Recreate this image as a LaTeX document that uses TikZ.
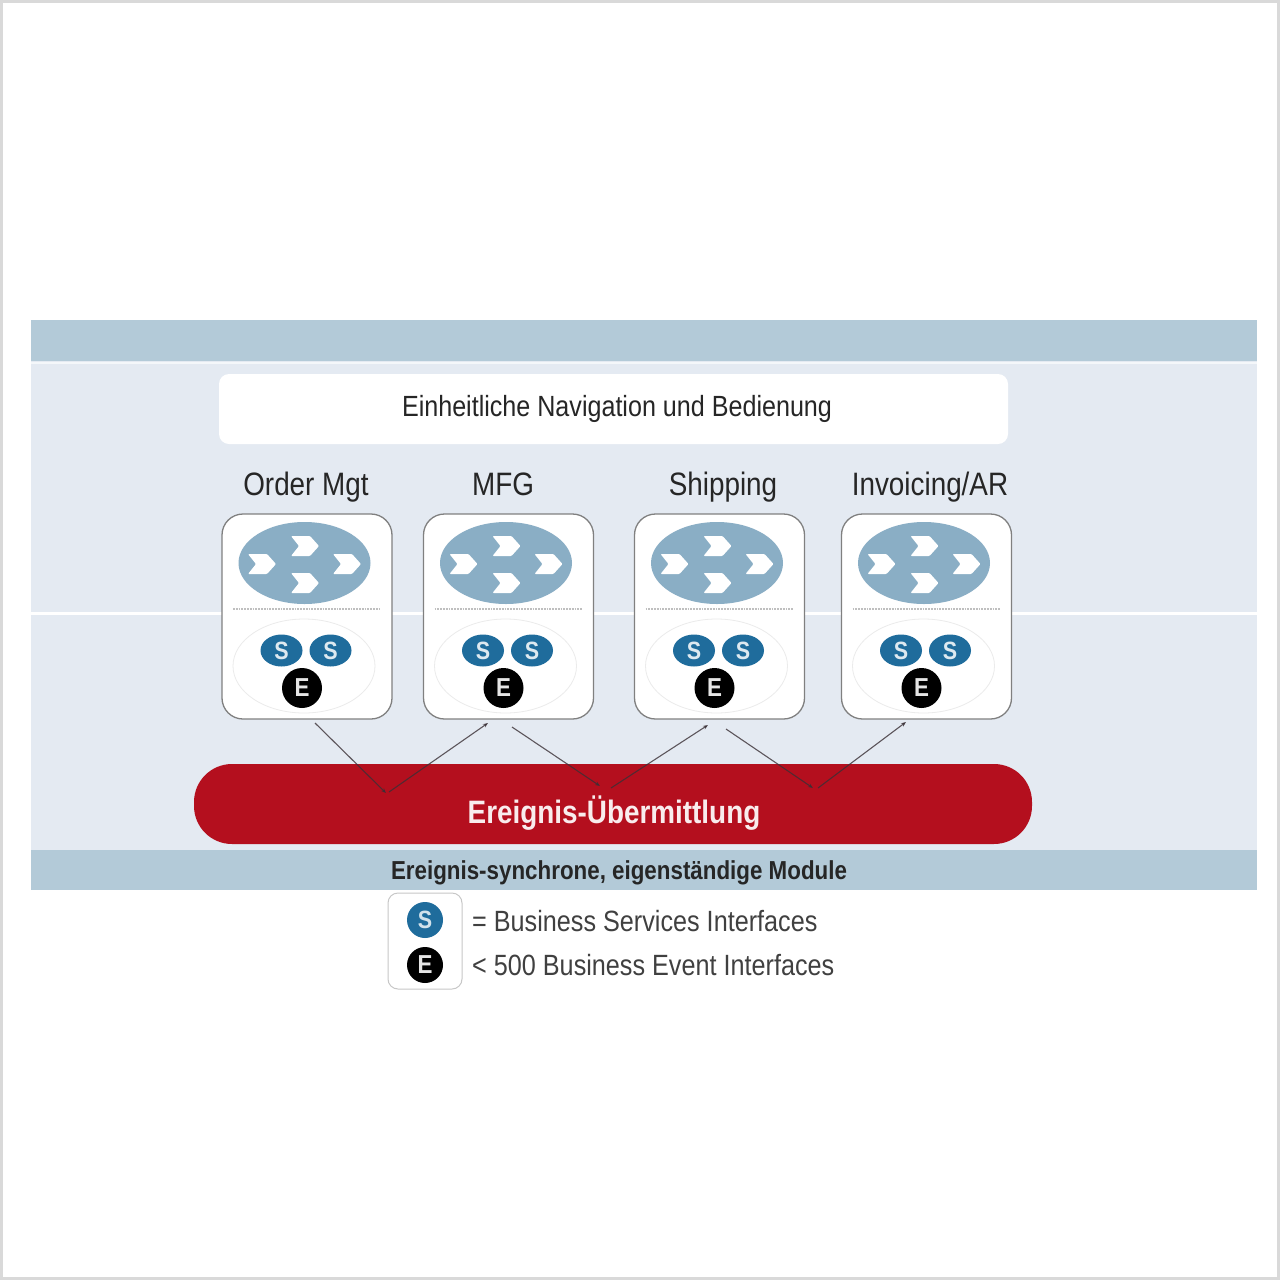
\documentclass[tikz,border=0pt]{standalone}
\usepackage{fontspec}
\setmainfont{Liberation Sans}[FakeStretch=0.86]
\usetikzlibrary{arrows.meta,shapes.geometric}
\definecolor{bandc}{HTML}{B3CAD8}
\definecolor{bgc}{HTML}{E4EAF2}
\definecolor{redc}{HTML}{B40F1E}
\definecolor{bluec}{HTML}{1F6C9C}
\definecolor{ellc}{HTML}{8AAEC5}
\definecolor{linec}{HTML}{3A3036}
\definecolor{framec}{HTML}{D9D9D9}
\tikzset{
  x=1pt,y=-1pt,
  band/.style={fill=bandc,draw=none},
  lbl/.style={font=\fontsize{32.4}{36}\selectfont,text=black!85,inner sep=0pt,anchor=base},
  legendtxt/.style={font=\fontsize{29.3}{34}\selectfont,text=black!75,inner sep=0pt,anchor=west},
  modbox/.style={draw=black!50,line width=1.3pt,fill=white,rounded corners=21pt,minimum width=170pt,minimum height=205pt,inner sep=0pt},
  flowell/.style={fill=ellc,draw=none,ellipse,minimum width=132pt,minimum height=82pt,inner sep=0pt},
  faintell/.style={draw=black!8,fill=white,line width=.8pt,minimum width=142pt,minimum height=94pt,ellipse,inner sep=0pt},
  sell/.style={fill=bluec,draw=none,ellipse,minimum width=42pt,minimum height=32pt,inner sep=0pt,text=white!85!bluec,font=\bfseries\fontsize{25}{28}\selectfont},
  ecirc/.style={fill=black,draw=none,circle,minimum size=40pt,inner sep=0pt,text=white!90!black,font=\bfseries\fontsize{26}{28}\selectfont},
  scirc/.style={fill=bluec,draw=none,circle,minimum size=36pt,inner sep=0pt,text=white!80!bluec,font=\bfseries\fontsize{25}{28}\selectfont},
  ecircs/.style={ecirc,minimum size=36pt},
  conn/.style={draw=linec,line width=1.1pt,draw opacity=.8,-{Stealth[length=5pt,width=4pt]}},
  chev/.pic={\fill[white,rounded corners=1pt] (-14,-10) -- (5,-10) -- (14,0) -- (5,10) -- (-14,10) -- (-6,0) -- cycle;},
}
\begin{document}
\begin{tikzpicture}
\useasboundingbox (0,0) rectangle (1280,1280);
\fill[white] (0,0) rectangle (1280,1280);
\draw[framec,line width=3pt] (1.5,1.5) rectangle (1278.5,1278.5);
% panel
\fill[bgc] (31,361) rectangle (1257,850);
\fill[band] (31,320) rectangle (1257,361);
\fill[band] (31,850) rectangle (1257,890);
\draw[white!60!bgc,line width=2.5pt] (31,363) -- (1257,363);
\draw[white,line width=3pt] (31,613) -- (1257,613);
% top bar
\node[fill=white,rounded corners=10pt,minimum width=789pt,minimum height=70pt,inner sep=0pt] (nav) at (613.5,409) {};
\node[lbl,font=\fontsize{29.2}{34}\selectfont] (navt) at (617,416) {Einheitliche Navigation und Bedienung};
% titles
\node[lbl] (t1) at (306,495) {Order Mgt};
\node[lbl] (t2) at (503,495) {MFG};
\node[lbl] (t3) at (723,495) {Shipping};
\node[lbl] (t4) at (930,495) {Invoicing/AR};
% red bus
\node[fill=redc,rounded corners=38pt,minimum width=838pt,minimum height=80pt,inner sep=0pt] (bus) at (613,804) {};
\node[text=white!92!redc,font=\bfseries\fontsize{32.4}{36}\selectfont,inner sep=0pt] (bust) at (614,813) {Ereignis-Übermittlung};
% modules
\foreach \i/\dx in {1/0,2/201.5,3/412.5,4/619.5}{
  \begin{scope}[shift={(\dx,0)}]
    \node[modbox] (m\i) at (307,616.5) {};
    \node[flowell] (f\i) at (304.5,563) {};
    \pic at (305,546) {chev};
    \pic at (262,564) {chev};
    \pic at (347,564) {chev};
    \pic at (305,583) {chev};
    \draw[black!25,line width=1.8pt,densely dotted] (233,609) -- (380,609);
    \node[faintell] (g\i) at (304,666) {};
    \node[sell] (sa\i) at (281.5,650.5) {S};
    \node[sell] (sb\i) at (330.5,650.5) {S};
    \node[ecirc] (e\i) at (302,688) {E};
  \end{scope}
}
% connectors
\coordinate (a1) at (315,723);
\coordinate (a2) at (386,793);
\coordinate (a3) at (389,792);
\coordinate (a4) at (488,723);
\coordinate (b1) at (512,727);
\coordinate (b2) at (600,786);
\coordinate (b3) at (611,788);
\coordinate (b4) at (708,725);
\coordinate (c1) at (726,729);
\coordinate (c2) at (813,788);
\coordinate (c3) at (818,788);
\coordinate (c4) at (906,722);
\draw[conn] (a1) -- (a2);
\draw[conn] (a3) -- (a4);
\draw[conn] (b1) -- (b2);
\draw[conn] (b3) -- (b4);
\draw[conn] (c1) -- (c2);
\draw[conn] (c3) -- (c4);
% bottom band label
\node[font=\bfseries\fontsize{26}{30}\selectfont,text=black!85,inner sep=0pt] (bot) at (619,873) {Ereignis-synchrone, eigenständige Module};
% legend
\node[draw=black!22,line width=1pt,fill=white,rounded corners=10pt,minimum width=74pt,minimum height=96pt,inner sep=0pt] (leg) at (425,941) {};
\node[scirc] (ls) at (425,920) {S};
\node[ecircs] (le) at (425,965) {E};
\node[legendtxt] (l1) at (472,921) {= Business Services Interfaces};
\node[legendtxt] (l2) at (472,965) {< 500 Business Event Interfaces};
\end{tikzpicture}
\end{document}
